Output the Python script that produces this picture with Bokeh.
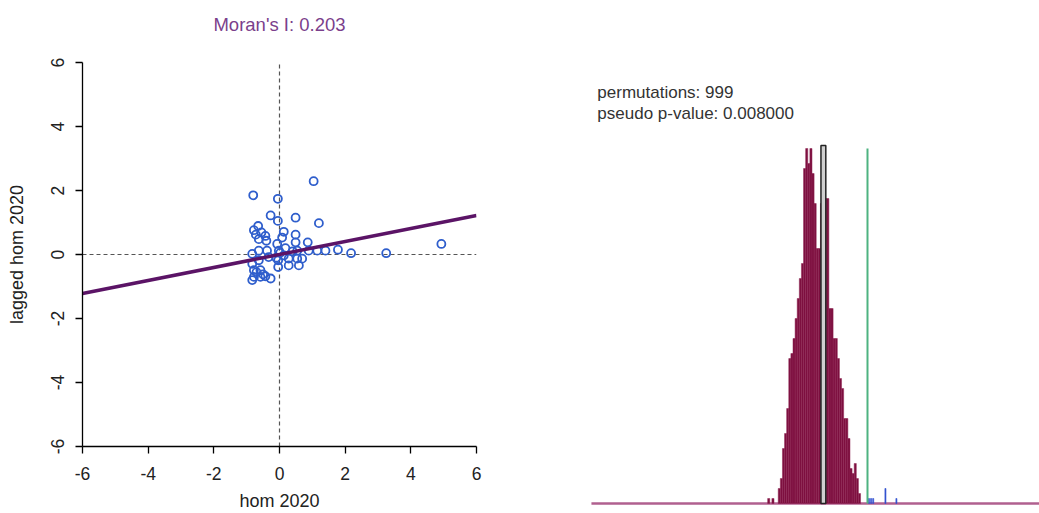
from bokeh.plotting import figure
from bokeh.models import Range1d, FixedTicker, Label, Title
from bokeh.layouts import row
from bokeh.embed import file_html
from bokeh.resources import INLINE

# ---------------- data ----------------
hom_2020 = [1.04, -0.80, -0.05, -0.27, -0.05, 0.49, 1.20, -0.65, -0.78, -0.55,
            -0.43, -0.63, -0.40, 0.13, 0.08, 0.49, 0.49, 0.86, -0.07, -0.63,
            -0.38, -0.83, -0.02, 0.13, 0.54, 0.89, 1.15, 1.40, 1.78, 2.18,
            0.28, 0.54, 0.69, -0.04, -0.04, 0.28, 0.59, -0.83, -0.78, -0.78,
            -0.58, -0.58, -0.43, -0.27, -0.83, -0.63, -0.33, 3.25, 4.93,
            -0.72, -0.50, -0.70, 0.18, 0.40, -0.10, 0.02]
lagged_hom_2020 = [2.29, 1.85, 1.74, 1.22, 1.05, 1.15, 0.98, 0.89, 0.76, 0.69,
                   0.58, 0.48, 0.43, 0.71, 0.53, 0.62, 0.38, 0.38, 0.33, 0.12,
                   0.12, 0.02, 0.12, -0.03, 0.12, 0.12, 0.12, 0.12, 0.15, 0.04,
                   -0.13, -0.13, -0.13, -0.18, -0.39, -0.34, -0.34, -0.29, -0.49, -0.70,
                   -0.49, -0.70, -0.68, -0.75, -0.80, -0.18, -0.08, 0.04, 0.33,
                   0.62, -0.62, -0.55, 0.20, 0.10, -0.10, 0.05]
morans_i = 0.203
axis_ticks = [-6, -4, -2, 0, 2, 4, 6]
axis_tick_labels = ["-6", "-4", "-2", "0", "2", "4", "6"]

bin_width = 0.01
perm_bin_centers = [-0.265, -0.245, -0.215, -0.205, -0.195, -0.185, -0.175, -0.165,
                    -0.155, -0.145, -0.135, -0.125, -0.115, -0.105, -0.095, -0.085,
                    -0.075, -0.065, -0.055, -0.045, -0.035, -0.025, -0.015, -0.005,
                    0.005, 0.015, 0.025, 0.035, 0.045, 0.055, 0.065, 0.075,
                    0.085, 0.095, 0.105, 0.115, 0.125, 0.135, 0.145, 0.155, 0.165]
perm_counts = [1, 1, 3, 5, 11, 14, 19, 29,
               30, 33, 37, 41, 45, 48, 67, 71,
               68, 71, 66, 60, 51, 51, 60, 68,
               61, 61, 39, 39, 33, 33, 29, 25,
               23, 17, 17, 13, 7, 6, 8, 5, 2]
extreme_bin_centers = [0.210, 0.220, 0.230, 0.288, 0.340]
extreme_counts = [1, 1, 1, 3, 1]
expected_i = -0.008
permutations = 999
pseudo_p = 0.008

FONT = "Liberation Sans"

# ---------------- Moran scatter plot ----------------
p1 = figure(width=508, height=513, x_range=Range1d(-6, 6), y_range=Range1d(-6, 6),
            output_backend="svg", toolbar_location=None,
            min_border_left=82, min_border_right=32, min_border_top=62, min_border_bottom=64)
p1.frame_align = False
p1.outline_line_color = None
p1.grid.visible = False
p1.background_fill_color = "white"
p1.border_fill_color = "white"
p1.title.text = ""
p1.title.standoff = 0

# spacer (closest to the frame), then the visible title above it
p1.add_layout(Title(text=" ", text_font_size="1px", standoff=25), "above")
p1.add_layout(Title(text=f"Moran's I: {morans_i:.3f}", align="center", standoff=0,
                    text_color="#7b3f8c", text_font=FONT, text_font_size="18.5px",
                    text_font_style="normal"), "above")

for ax in (p1.xaxis[0], p1.yaxis[0]):
    ax.ticker = FixedTicker(ticks=axis_ticks)
    ax.major_label_overrides = dict(zip(axis_ticks, axis_tick_labels))
    ax.major_tick_out = 7
    ax.major_tick_in = 0
    ax.minor_tick_line_color = None
    ax.major_label_text_font = FONT
    ax.major_label_text_font_size = "17.5px"
    ax.major_label_text_color = "#222222"
    ax.axis_label_text_font = FONT
    ax.axis_label_text_font_size = "18px"
    ax.axis_label_text_font_style = "normal"
    ax.axis_label_text_color = "#222222"
    ax.axis_line_width = 1.3
    ax.major_tick_line_width = 1.3
p1.xaxis.major_label_standoff = 13
p1.xaxis.axis_label_standoff = 8
p1.yaxis.major_label_standoff = 12
p1.yaxis.axis_label_standoff = 21
p1.xaxis.axis_label = "hom 2020"
p1.yaxis.axis_label = "lagged hom 2020"
p1.yaxis.major_label_orientation = "vertical"

p1.line([axis_ticks[0], axis_ticks[-1]], [0, 0], line_color="#555555", line_width=1.2, line_dash="4 3")
p1.line([0, 0], [axis_ticks[0], axis_ticks[-1]], line_color="#555555", line_width=1.2, line_dash="4 3")
p1.scatter(hom_2020, lagged_hom_2020, marker="circle", size=8, fill_color=None,
           line_color="#2f5ecc", line_width=1.8)
p1.line([axis_ticks[0], axis_ticks[-1]], [morans_i * axis_ticks[0], morans_i * axis_ticks[-1]],
        line_color="#5b1466", line_width=3.5)

# ---------------- permutation histogram ----------------
p2 = figure(width=531, height=513, x_range=Range1d(-1.498, 1.018), y_range=Range1d(-2, 100.6),
            output_backend="svg", toolbar_location=None,
            x_axis_location=None, y_axis_location=None,
            min_border_left=0, min_border_right=0, min_border_top=0, min_border_bottom=0)
p2.frame_align = False
p2.outline_line_color = None
p2.grid.visible = False

p2.line([-1.105, 1.018], [0, 0], line_color="#b0608f", line_width=2.5)
p2.quad(left=[c - bin_width / 2 for c in perm_bin_centers],
        right=[c + bin_width / 2 for c in perm_bin_centers],
        bottom=0, top=perm_counts,
        fill_color="#7d0f3f", line_color="#8e2553", line_width=0.5)
p2.quad(left=[c - bin_width / 4 for c in extreme_bin_centers],
        right=[c + bin_width / 4 for c in extreme_bin_centers],
        bottom=0, top=extreme_counts,
        fill_color="#3050d0", line_color="#3050d0", line_width=0.6)
p2.quad(left=[expected_i - 0.0095], right=[expected_i + 0.0135], bottom=0, top=[max(perm_counts) + 0.6],
        fill_color="#cfcfcf", line_color="#222222", line_width=1.5)
p2.line([morans_i, morans_i], [0, max(perm_counts)], line_color="#4db380", line_width=2)

p2.add_layout(Label(x=-1.077, y=82.2, text=f"permutations: {permutations}",
                    text_font=FONT, text_font_size="17px", text_color="#333333",
                    text_baseline="middle"))
p2.add_layout(Label(x=-1.077, y=78.0, text=f"pseudo p-value: {pseudo_p:.6f}",
                    text_font=FONT, text_font_size="17px", text_color="#333333",
                    text_baseline="middle"))

layout = row(p1, p2)
open("out.html", "w").write(file_html(layout, INLINE))
